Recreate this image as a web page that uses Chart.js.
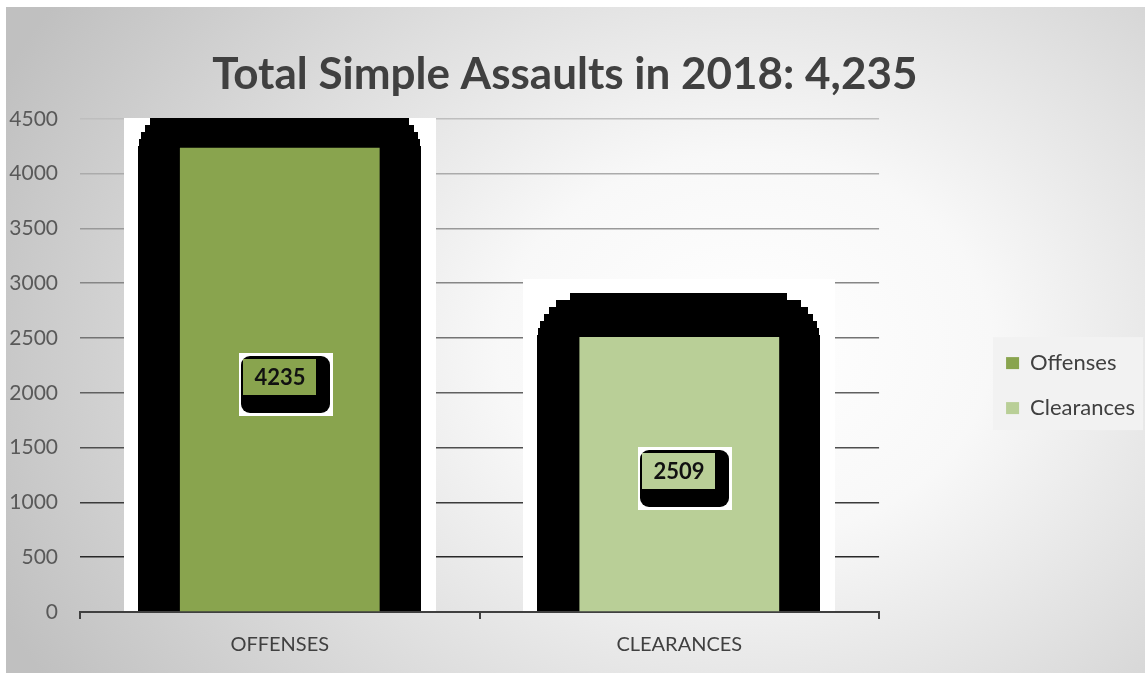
<!DOCTYPE html>
<html>
<head>
<meta charset="utf-8">
<script src="https://cdn.jsdelivr.net/npm/chart.js@4.4.0/dist/chart.umd.min.js"></script>
<style>
  body { margin: 0; background: #fff; }
  #wrap { position: absolute; left: 6px; top: 7px; width: 1139px; height: 666px; }
</style>
</head>
<body>
<div id="wrap"><canvas id="myChart"></canvas></div>
<script>
// data
const categories = ['OFFENSES', 'CLEARANCES'];
const seriesNames = ['Offenses', 'Clearances'];
const offenses = [4235, null];
const clearances = [null, 2509];
const seriesColors = ['#89A44E', '#B9CF97'];
const yMin = 0;
const yMax = 4500;
const yStep = 500;

const fontFam = 'Lato, "Open Sans", sans-serif';

// bakgrunn med gradient + boks bak legend
const bakgrunn = {
  id: 'bakgrunn',
  beforeDraw(chart) {
    const c = chart.ctx;
    c.save();
    c.translate(740, 340);
    c.scale(1, 640 / 820);
    const g = c.createRadialGradient(0, 0, 0, 0, 0, 820);
    g.addColorStop(0, '#ffffff');
    g.addColorStop(0.3, '#f8f8f8');
    g.addColorStop(1, '#c0c0c0');
    c.fillStyle = g;
    c.fillRect(-1000, -1200, 2400, 2400);
    c.restore();

    const hb = chart.legend.legendHitBoxes;
    if (hb && hb.length) {
      const a = hb[0], b = hb[hb.length - 1];
      const top = a.top + a.height / 2 - 26;
      const bottom = b.top + b.height / 2 + 22;
      c.save();
      c.fillStyle = '#f2f2f2';
      c.fillRect(a.left - 13, top, 150, bottom - top);
      c.restore();
    }
  }
};

// trappete avrundet firkant (svart skygge)
function trappFirkant(c, x1, y1, x2, y2, r, step) {
  x1 = Math.round(x1); x2 = Math.round(x2); y1 = Math.round(y1); y2 = Math.round(y2);
  for (let t = y1; t < y1 + r; t += step) {
    const b = Math.min(t + step, y1 + r);
    const d = y1 + r - (t + step * 0.3);
    const inset = Math.round(r - Math.sqrt(Math.max(0, r * r - d * d)));
    c.fillRect(x1 + inset, t, (x2 - x1) - 2 * inset, b - t + 1);
  }
  c.fillRect(x1, y1 + r, x2 - x1, y2 - (y1 + r));
}

const skygge = {
  id: 'skygge',
  beforeDatasetsDraw(chart) {
    const c = chart.ctx;
    const area = chart.chartArea;
    c.save();
    c.beginPath();
    c.rect(0, Math.round(area.top) - 1, chart.width, chart.height);
    c.clip();
    chart.data.datasets.forEach((ds, i) => {
      chart.getDatasetMeta(i).data.forEach((bar, j) => {
        if (ds.data[j] == null) return;
        const p = bar.getProps(['x', 'y', 'base', 'width'], true);
        const left = p.x - p.width / 2, right = p.x + p.width / 2;
        c.fillStyle = '#ffffff';
        c.fillRect(Math.round(left - 56), Math.round(p.y - 58), Math.round(p.width + 112), Math.round(p.base - (p.y - 58)));
        c.fillStyle = '#000000';
        trappFirkant(c, left - 42, p.y - 44, right + 41, p.base, 47, 7);
      });
    });
    c.restore();
  }
};

// dataetiketter
const etiketter = {
  id: 'etiketter',
  afterDatasetsDraw(chart) {
    const c = chart.ctx;
    chart.data.datasets.forEach((ds, i) => {
      chart.getDatasetMeta(i).data.forEach((bar, j) => {
        const v = ds.data[j];
        if (v == null) return;
        const p = bar.getProps(['x', 'y', 'base'], true);
        const x0 = Math.round(p.x), cy = Math.round((p.y + p.base) / 2);
        c.save();
        c.fillStyle = '#ffffff';
        c.fillRect(x0 - 41, cy - 27, 94, 63);
        c.fillStyle = '#000000';
        c.beginPath();
        c.roundRect(x0 - 39, cy - 24, 89, 57, 9);
        c.fill();
        c.fillStyle = ds.backgroundColor;
        c.fillRect(x0 - 37, cy - 21, 73, 36);
        c.fillStyle = '#111111';
        c.font = 'bold 22px ' + fontFam;
        c.textAlign = 'center';
        c.textBaseline = 'middle';
        c.fillText(String(v), x0, cy - 2);
        c.restore();
      });
    });
  }
};

const ctx = document.getElementById('myChart');

const myChart = new Chart(ctx, {
  type: 'bar',
  data: {
    labels: categories,
    datasets: [
      { label: seriesNames[0], data: offenses, backgroundColor: seriesColors[0] },
      { label: seriesNames[1], data: clearances, backgroundColor: seriesColors[1] }
    ]
  },
  options: {
    responsive: true,
    maintainAspectRatio: false,
    animation: false,
    grouped: false,
    categoryPercentage: 0.5,
    barPercentage: 1,
    layout: { padding: { left: 0, right: 0, top: 0, bottom: 2 } },
    plugins: {
      title: {
        display: true,
        // mellomrom på slutten flytter tittelen litt mot venstre, som i originalen
        text: 'Total Simple Assaults in 2018: 4,235\u00a0\u00a0',
        color: '#404040',
        font: { family: fontFam, size: 44, weight: 'bold' },
        padding: { top: 41, bottom: 18 }
      },
      legend: {
        position: 'right',
        title: { display: true, text: ' ', font: { size: 1 }, padding: { top: 0, bottom: 92 } },
        labels: {
          boxWidth: 13,
          boxHeight: 12,
          padding: 23,
          color: '#404040',
          font: { family: fontFam, size: 22 }
        }
      },
      tooltip: { enabled: false }
    },
    scales: {
      x: {
        offset: true,
        z: 1,
        grid: { offset: true, drawOnChartArea: false, tickLength: 7, color: '#404040', lineWidth: 2 },
        border: { color: '#404040', width: 2 },
        ticks: { color: '#404040', padding: 14, font: { family: fontFam, size: 20 } }
      },
      y: {
        min: yMin,
        max: yMax,
        ticks: {
          stepSize: yStep,
          color: '#595959',
          padding: 22,
          font: { family: fontFam, size: 21 },
          callback: (v) => String(v)
        },
        grid: {
          drawTicks: false,
          lineWidth: 1.5,
          color: (c) => {
            const v = c.tick ? c.tick.value : 0;
            if (v === 0) return 'rgba(0,0,0,0)';
            const l = Math.round(40 + (v - 500) / 4000 * 150);
            return 'rgb(' + l + ',' + l + ',' + l + ')';
          }
        },
        border: { display: false },
        afterFit: (s) => { s.width = 74; }
      },
      mellomrom: {
        type: 'linear',
        position: 'right',
        display: true,
        grid: { display: false },
        ticks: { display: false },
        border: { display: false },
        afterFit: (s) => { s.width = 104; }
      }
    }
  },
  plugins: [bakgrunn, skygge, etiketter]
});
</script>
</body>
</html>
